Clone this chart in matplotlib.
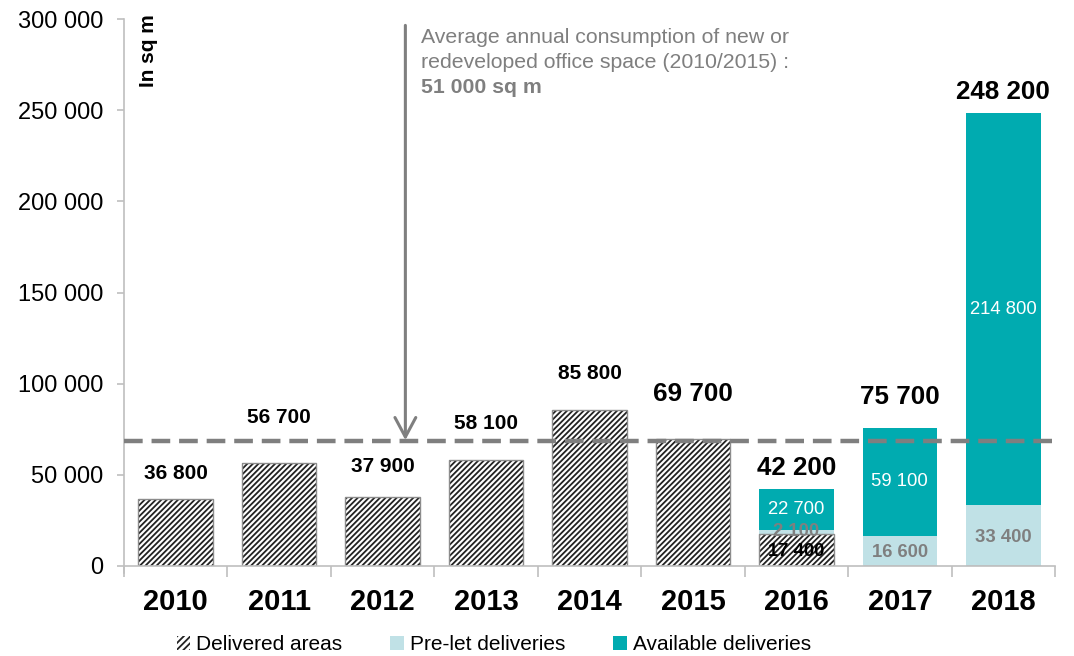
import matplotlib
matplotlib.use("Agg")
import matplotlib.pyplot as plt
from matplotlib.patches import Patch
import numpy as np

plt.rcParams['font.family'] = ['Liberation Sans', 'DejaVu Sans']
plt.rcParams['hatch.linewidth'] = 1.3

years = ['2010', '2011', '2012', '2013', '2014', '2015', '2016', '2017', '2018']
delivered = [36800, 56700, 37900, 58100, 85800, 69700, 17400, 0, 0]
prelet = [0, 0, 0, 0, 0, 0, 2100, 16600, 33400]
available = [0, 0, 0, 0, 0, 0, 22700, 59100, 214800]
totals = [36800, 56700, 37900, 58100, 85800, 69700, 42200, 75700, 248200]
total_label_y = [51000, 81200, 54300, 78400, 105800, 94300, 53700, 92700, 260000]
average_line = 68500
y_ticks = [0, 50000, 100000, 150000, 200000, 250000, 300000]

def fmt(v):
    return f"{v:,}".replace(",", " ")

TEAL = '#00ABB0'
LIGHT = '#C0E1E6'
GREY = '#7F7F7F'

fig = plt.figure(figsize=(10.74, 6.56), dpi=100)
ax = fig.add_axes([124/1074, 90/656, 931/1074, 547/656])
x = np.arange(len(years))
w = 0.72

d = np.array(delivered); p = np.array(prelet); a = np.array(available)
ax.bar(x, d, w, facecolor='white', edgecolor='#222222', hatch='//////', linewidth=0, zorder=2)
ax.bar(x, d, w, fill=False, edgecolor='#8c8c8c', linewidth=1.0, zorder=2.1)
ax.bar(x, p, w, bottom=d, color=LIGHT, linewidth=0, zorder=2)
ax.bar(x, a, w, bottom=d + p, color=TEAL, linewidth=0, zorder=2)

# average line
ax.axhline(average_line, color=GREY, lw=3.2, linestyle=(0, (4.2, 2.0)), zorder=3)

# arrow
ax.annotate('', xy=(2.22, average_line + 500), xytext=(2.22, 296500),
            arrowprops=dict(arrowstyle='->,head_length=1.4,head_width=0.75', color=GREY, lw=2.2,
                            shrinkA=0, shrinkB=0), zorder=4)
ax.text(2.37, 289600, 'Average annual consumption of new or', color=GREY, fontsize=15.3,
        va='center', ha='left')
ax.text(2.37, 276400, 'redeveloped office space (2010/2015) :', color=GREY, fontsize=15.3,
        va='center', ha='left')
ax.text(2.37, 262700, '51 000 sq m', color=GREY, fontsize=15.3, fontweight='bold',
        va='center', ha='left')

# total labels
for i, (t, ly) in enumerate(zip(totals, total_label_y)):
    fs = 15 if i <= 4 else 18.7
    ax.text(i, ly, fmt(t), ha='center', va='center', fontsize=fs, fontweight='bold', color='black')

# inner labels
for i in range(len(years)):
    if i >= 6:
        if d[i] > 0:
            ax.text(i, d[i] / 2 - 500, fmt(int(d[i])), ha='center', va='center', fontsize=13.3,
                    fontweight='bold', color='black')
        if p[i] > 0:
            ypos = d[i] + p[i] / 2 - 1000 if p[i] > 5000 else d[i] + 1500
            ax.text(i, ypos, fmt(int(p[i])), ha='center', va='center', fontsize=13.3,
                    fontweight='bold', color=GREY)
        if a[i] > 0:
            ax.text(i, d[i] + p[i] + a[i] / 2, fmt(int(a[i])), ha='center', va='center',
                    fontsize=13.3, color='white')

ax.text(24/931, 1.008, 'In sq m', transform=ax.transAxes, rotation=90, ha='center', va='top',
        fontsize=15, fontweight='bold')

ax.set_xlim(-0.5, len(years) - 0.5)
ax.set_ylim(0, 300000)
ax.set_yticks(y_ticks)
ax.set_yticklabels([fmt(v) for v in y_ticks], fontsize=17)
ax.set_xticks(x)
ax.set_xticklabels(years, fontsize=21, fontweight='bold')
ax.tick_params(axis='x', length=0, pad=16)
ax.set_xticks(np.arange(-0.5, len(years)), minor=True)
ax.tick_params(axis='x', which='minor', length=8, color='#BFBFBF', width=1.2, direction='out')
ax.tick_params(axis='y', length=5, color='#BFBFBF', width=1.2, pad=10)
for s in ['top', 'right']:
    ax.spines[s].set_visible(False)
ax.spines['left'].set_color('#BFBFBF')
ax.spines['bottom'].set_color('#BFBFBF')
ax.spines['left'].set_linewidth(1.2)
ax.spines['bottom'].set_linewidth(1.2)
ax.spines['left'].set_bounds(-4000, 300000)

handles = [Patch(facecolor='white', edgecolor='#222222', hatch='/////', linewidth=0, label='Delivered areas'),
           Patch(facecolor=LIGHT, label='Pre-let deliveries'),
           Patch(facecolor=TEAL, label='Available deliveries')]
fig.legend(handles=handles, loc='center', bbox_to_anchor=(494/1074, 11/656), ncol=3, frameon=False,
           fontsize=15, handlelength=0.65, handleheight=0.65, handletextpad=0.3, columnspacing=2.3)

fig.savefig('out.png', dpi=100)
